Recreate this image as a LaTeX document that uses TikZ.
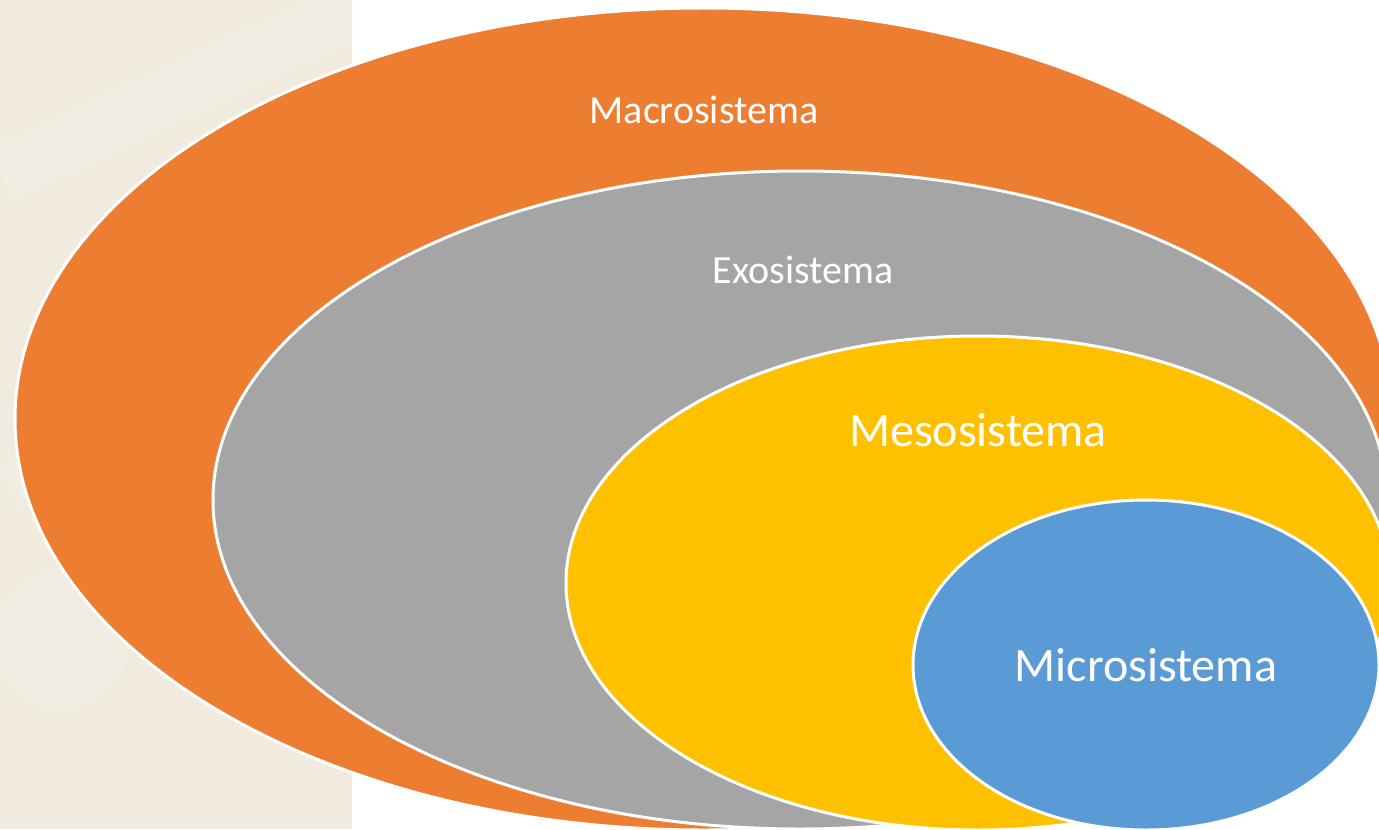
\documentclass[tikz,border=0pt]{standalone}
\usepackage{fontspec}
\setmainfont{Carlito}
\definecolor{beige}{HTML}{F0EADF}
\definecolor{beigelight}{HTML}{F3EEE5}
\definecolor{macro}{HTML}{ED7D31}
\definecolor{exo}{HTML}{A5A5A5}
\definecolor{meso}{HTML}{FFC000}
\definecolor{micro}{HTML}{5B9BD5}
\tikzset{
  ring/.style={draw=white, line width=1.5pt},
  lab/.style={text=white, inner sep=0pt, anchor=center},
}
\begin{document}
\begin{tikzpicture}[x=0.5pt, y=-0.5pt]
\useasboundingbox (0,0) rectangle (1379,829);
\fill[white] (0,0) rectangle (1379,829);
\fill[beige] (0,0) rectangle (352,829);
\begin{scope}
\clip (0,0) rectangle (352,829);
\fill[beigelight, opacity=0.6, rotate around={25:(100,150)}] (0,100) rectangle (400,160);
\fill[beigelight, opacity=0.6, rotate around={25:(100,450)}] (0,420) rectangle (400,470);
\fill[beigelight, opacity=0.5] (60,640) circle (70);
\end{scope}
\begin{scope}
\clip (0,0) rectangle (1379,829);
\filldraw[ring, fill=macro] (703.5,419) ellipse [x radius=688.5, y radius=411];
\filldraw[ring, fill=exo] (800,500) ellipse [x radius=587, y radius=329];
\filldraw[ring, fill=meso] (978,583) ellipse [x radius=412, y radius=247];
\filldraw[ring, fill=micro] (1146,665) ellipse [x radius=233, y radius=165];
\end{scope}
\node[lab, font=\fontsize{20}{24}\selectfont] (macrotext) at (704,110) {Macrosistema};
\node[lab, font=\fontsize{20}{24}\selectfont] (exotext) at (803,270) {Exosistema};
\node[lab, font=\fontsize{24}{28}\selectfont] (mesotext) at (978,430) {Mesosistema};
\node[lab, font=\fontsize{24}{28}\selectfont] (microtext) at (1146,665) {Microsistema};
\end{tikzpicture}
\end{document}
